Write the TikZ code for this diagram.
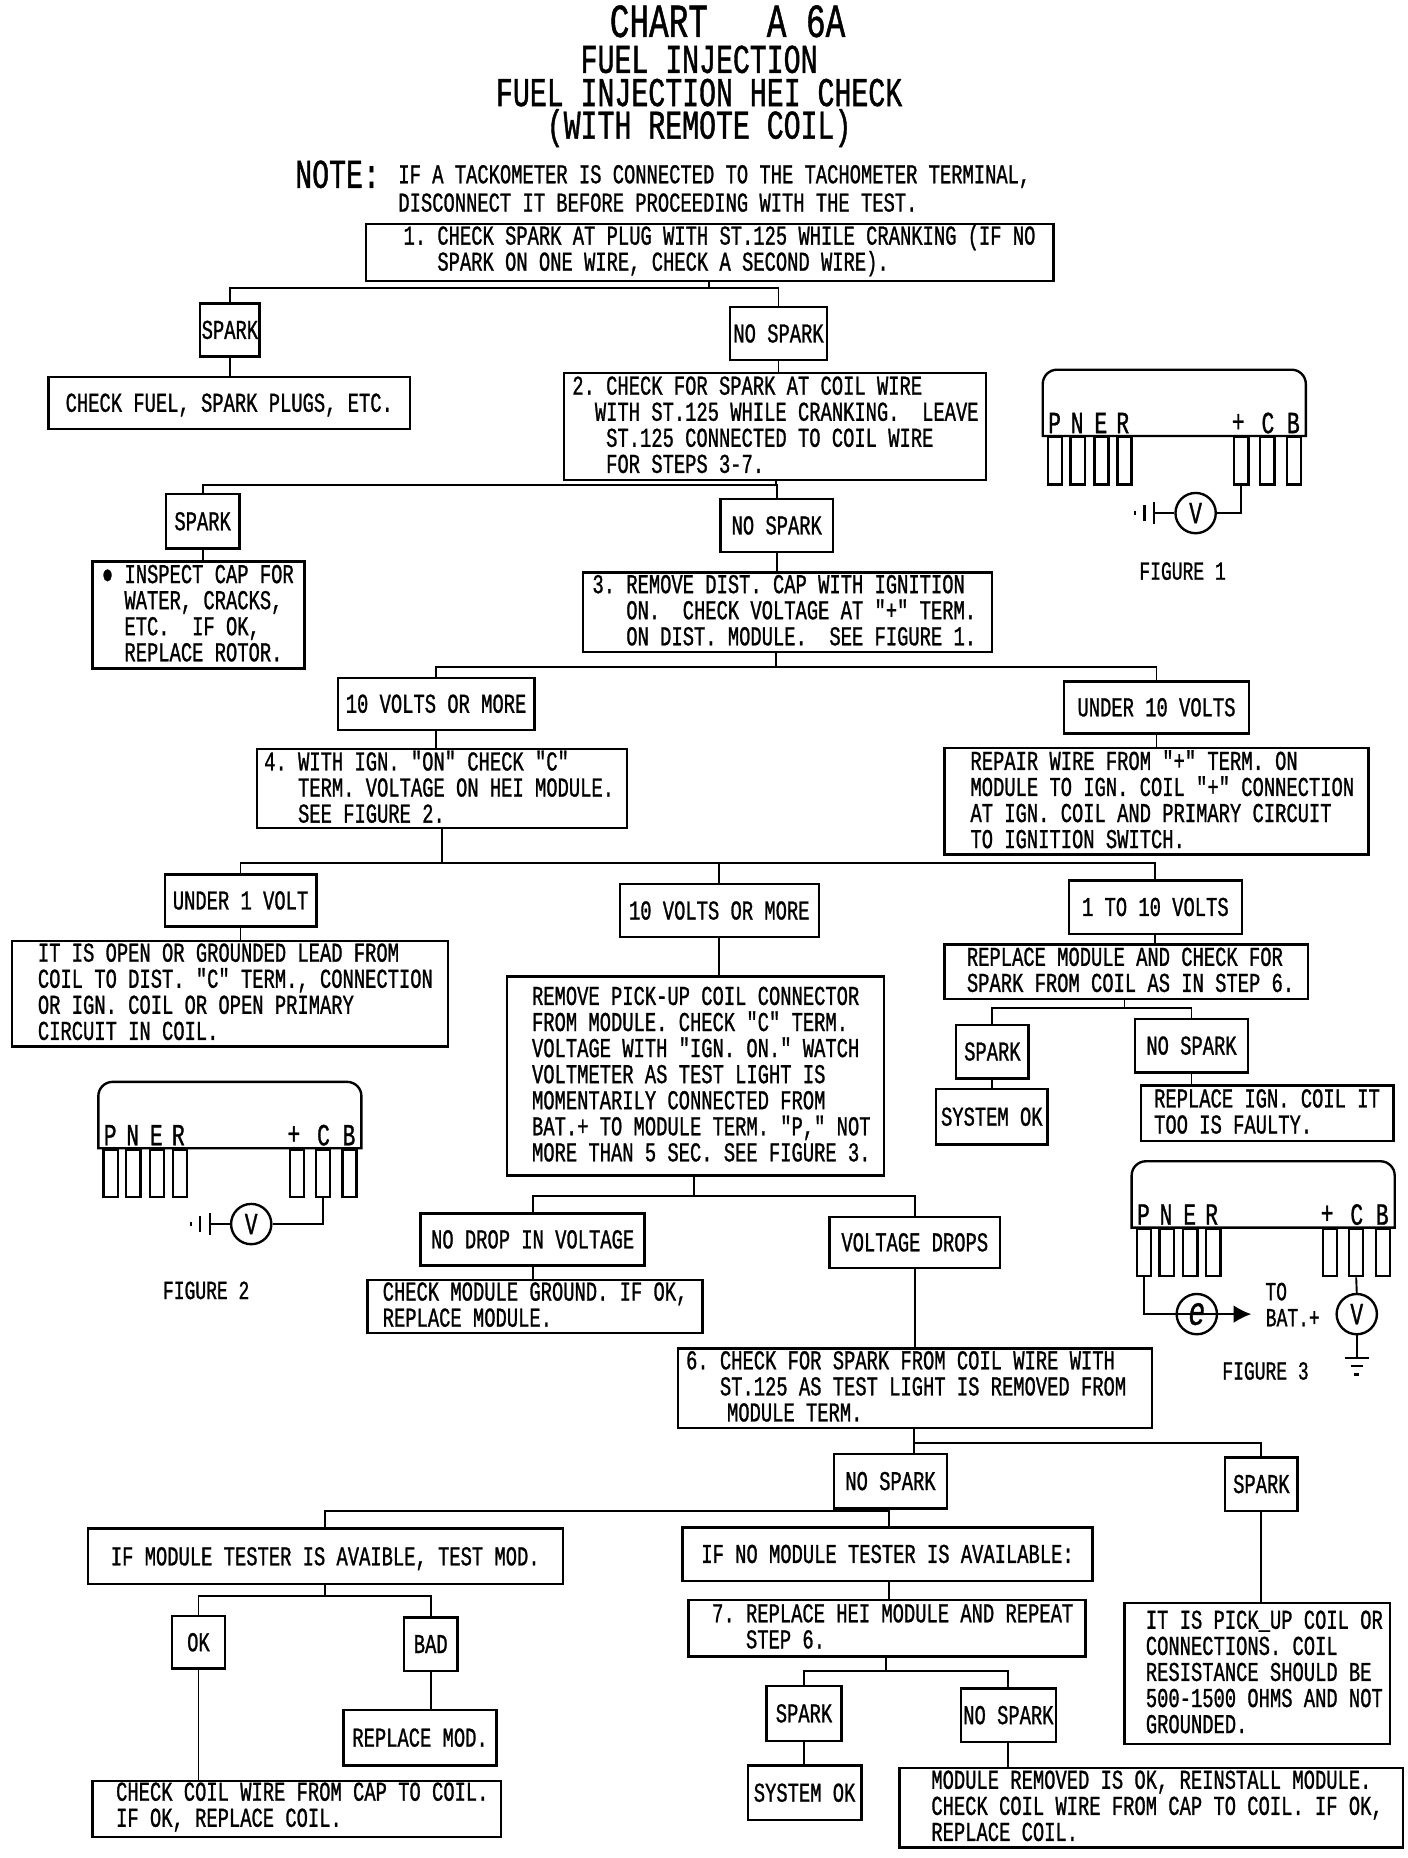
\documentclass[tikz,border=0pt]{standalone}
\usepackage{fontspec}
\setmonofont[FakeStretch=0.69,FakeBold=1]{Liberation Mono}
\renewcommand{\familydefault}{\ttdefault}
\usetikzlibrary{arrows.meta, calc}
% text block of a box: left margin, then the lines
\newcommand{\lns}[2]{\noindent\spaceskip=0pt\xspaceskip=0pt\hspace*{#1pt}\raisebox{1.5pt}[\height][\depth]{\begin{minipage}{1000pt}\baselineskip=22pt\lineskiplimit=-100pt #2\end{minipage}}}
% indent of a line, in characters
\newcommand{\ind}[1]{\hspace*{#1\dimexpr 9.52pt\relax}}
\newcommand{\fsz}[1]{\fontsize{#1}{22}\selectfont}
\newcommand{\heimodule}[3]{%
  \begin{scope}[shift={(#2,#3)}]
    \draw[outl] (0,56) [rounded corners=12pt] -- (0,0) -- (222,0) [sharp corners] -- (222,56) -- cycle;
    \foreach \pn/\px/\lx/\lt in {p/10.4/10/P, n/29.5/29/N, e/49.5/49/E, r/69/67.5/R, a/167.5/165/+, c/189.5/190/C, b/212/211.5/B} {
      \node[pinbox] (#1\pn) at (\px,56) {};
      \node[pinlabel] (#1l\pn) at (\lx,45) {\lt};
    }
  \end{scope}%
}
\begin{document}
\begin{tikzpicture}[
    x=1pt, y=-1pt,
    font=\fsz{23},
    outl/.style={line width=2pt},
    conn/.style={line width=1.6pt},
    bx/.style n args={2}{rectangle, draw, outl, anchor=north west, inner sep=0pt, text width=#1pt, minimum width=#1pt, minimum height=#2pt},
    lb/.style n args={2}{rectangle, draw, outl, anchor=north west, inner sep=0pt, align=center, text height=15pt, text depth=0pt, minimum width=#1pt, minimum height=#2pt},
    pinbox/.style={rectangle, draw, outl, anchor=north, inner sep=0pt, minimum width=12pt, minimum height=40pt},
    pinlabel/.style={inner sep=0pt, font=\fsz{26}},
    meter/.style={circle, draw, outl, inner sep=0pt, minimum size=34pt, font=\fsz{26}},
    capt/.style={inner sep=0pt, font=\fsz{22}},
    titl/.style={inner sep=0pt, font=\fsz{34.5}, text height=23pt, text depth=0pt}
]
    \useasboundingbox (0,0) rectangle (1188,1568);

    % TITLE
    \node[inner sep=0pt, font=\fsz{40}] (chart) at (614,18) {CHART~~~A~6A};
    \node[titl] (tl1) at (590,50) {FUEL INJECTION};
    \node[titl] (tl2) at (590,78) {FUEL INJECTION HEI CHECK};
    \node[titl] (tl3) at (590,105.5) {(WITH REMOTE COIL)};
    \node[titl, anchor=west] (note) at (249,147) {NOTE:};
    \node[inner sep=0pt, anchor=west] (nl1) at (336,149) {IF A TACKOMETER IS CONNECTED TO THE TACHOMETER TERMINAL,};
    \node[inner sep=0pt, anchor=west] (nl2) at (336,171) {DISCONNECT IT BEFORE PROCEEDING WITH THE TEST.};

    % STEP 1
    \node[bx={580}{48}] (q1) at (308,188) {\lns{3}{\ind{3}1. CHECK SPARK AT PLUG WITH ST.125 WHILE CRANKING (IF NO\\\ind{6}SPARK ON ONE WIRE, CHECK A SECOND WIRE).}};
    \node[lb={50}{45}] (sp1) at (168,255) {SPARK};
    \node[lb={82}{45}] (ns1) at (615,258) {NO SPARK};
    \node[lb={305}{44}] (r1) at (40,317) {CHECK FUEL, SPARK PLUGS, ETC.};
    \coordinate (j1) at (598,243);
    \draw[conn] (j1 |- q1.south) -- (j1);
    \draw[conn] (j1) -| (sp1.north);
    \draw[conn] (j1) -| (ns1.north);
    \draw[conn] (sp1.south) -- (sp1.south |- r1.north);

    % STEP 2
    \node[bx={356}{90}] (q2) at (475,314) {\lns{7}{2. CHECK FOR SPARK AT COIL WIRE\\\ind{2}WITH ST.125 WHILE CRANKING.~~LEAVE\\\ind{3}ST.125 CONNECTED TO COIL WIRE\\\ind{3}FOR STEPS 3-7.}};
    \draw[conn] (ns1.south) -- (ns1.south |- q2.north);
    \node[lb={62}{46}] (sp2) at (139,416) {SPARK};
    \node[lb={95}{45}] (ns2) at (607,420) {NO SPARK};
    \node[bx={179}{90}] (r2) at (77,473) {\lns{8}{●~INSPECT CAP FOR\\\ind{2}WATER, CRACKS,\\\ind{2}ETC.~~IF OK,\\\ind{2}REPLACE ROTOR.}};
    \coordinate (j2) at (655,409);
    \draw[conn] (j2 |- q2.south) -- (j2);
    \draw[conn] (j2) -| (sp2.north);
    \draw[conn] (j2) -| (ns2.north);
    \draw[conn] (sp2.south) -- (sp2.south |- r2.north);

    % STEP 3
    \node[bx={345}{67}] (q3) at (491,482) {\lns{8}{3. REMOVE DIST. CAP WITH IGNITION\\\ind{3}ON.~~CHECK VOLTAGE AT "+" TERM.\\\ind{3}ON DIST. MODULE.~~SEE FIGURE 1.}};
    \draw[conn] (ns2.south) -- (ns2.south |- q3.north);
    \node[lb={166}{44}] (ov1) at (284,571) {10 VOLTS OR MORE};
    \node[lb={156}{44}] (un1) at (897,574) {UNDER 10 VOLTS};
    \coordinate (j3) at (655,563);
    \draw[conn] (j3 |- q3.south) -- (j3);
    \draw[conn] (j3) -| (ov1.north);
    \draw[conn] (j3) -| (un1.north);

    % STEP 4
    \node[bx={312}{67}] (q4) at (216,631) {\lns{6}{4. WITH IGN. "ON" CHECK "C"\\\ind{3}TERM. VOLTAGE ON HEI MODULE.\\\ind{3}SEE FIGURE 2.}};
    \node[bx={358}{90}] (r4) at (796,630) {\lns{22}{REPAIR WIRE FROM "+" TERM. ON\\MODULE TO IGN. COIL "+" CONNECTION\\AT IGN. COIL AND PRIMARY CIRCUIT\\TO IGNITION SWITCH.}};
    \draw[conn] (ov1.south) -- (ov1.south |- q4.north);
    \draw[conn] (un1.south) -- (un1.south |- r4.north);
    \node[lb={128}{44}] (un2) at (138,737) {UNDER 1 VOLT};
    \node[lb={168}{45}] (ov2) at (522,745) {10 VOLTS OR MORE};
    \node[lb={146}{45}] (mid) at (901,742) {1 TO 10 VOLTS};
    \coordinate (j4) at (373,728);
    \draw[conn] (j4 |- q4.south) -- (j4);
    \draw[conn] (j4) -| (un2.north);
    \draw[conn] (j4) -| (ov2.north);
    \draw[conn] (j4) -| (mid.north);

    % UNDER 1 VOLT
    \node[bx={368}{89}] (r5) at (9,793) {\lns{22}{IT IS OPEN OR GROUNDED LEAD FROM\\COIL TO DIST. "C" TERM., CONNECTION\\OR IGN. COIL OR OPEN PRIMARY\\CIRCUIT IN COIL.}};
    \draw[conn] (un2.south) -- (un2.south |- r5.north);

    % 10 VOLTS OR MORE
    \node[bx={318}{168}] (q5) at (427,823) {\lns{21}{REMOVE PICK-UP COIL CONNECTOR\\FROM MODULE. CHECK "C" TERM.\\VOLTAGE WITH "IGN. ON." WATCH\\VOLTMETER AS TEST LIGHT IS\\MOMENTARILY CONNECTED FROM\\BAT.+ TO MODULE TERM. "P," NOT\\MORE THAN 5 SEC. SEE FIGURE 3.}};
    \draw[conn] (ov2.south) -- (ov2.south |- q5.north);

    % 1 TO 10 VOLTS
    \node[bx={307}{46}] (r6) at (796,796) {\lns{19}{REPLACE MODULE AND CHECK FOR\\SPARK FROM COIL AS IN STEP 6.}};
    \draw[conn] (mid.south) -- (mid.south |- r6.north);
    \node[lb={61}{45}] (sp3) at (806,864) {SPARK};
    \node[lb={95}{45}] (ns3) at (957,859) {NO SPARK};
    \node[lb={94}{47}] (ok1) at (789,918) {SYSTEM OK};
    \node[bx={213}{47}] (r8) at (962,915) {\lns{11}{REPLACE IGN. COIL IT\\TOO IS FAULTY.}};
    \coordinate (j5) at (949,851);
    \draw[conn] (j5 |- r6.south) -- (j5);
    \draw[conn] (j5) -| (sp3.north);
    \draw[conn] (j5) -| (ns3.north);
    \draw[conn] (sp3.south) -- (sp3.south |- ok1.north);
    \draw[conn] (ns3.south) -- (ns3.south |- r8.north);

    % VOLTAGE DROP
    \node[lb={189}{44}] (nd) at (354,1023) {NO DROP IN VOLTAGE};
    \node[lb={144}{43}] (vd) at (699,1026) {VOLTAGE DROPS};
    \node[bx={283}{45}] (r9) at (309,1079) {\lns{13}{CHECK MODULE GROUND. IF OK,\\REPLACE MODULE.}};
    \coordinate (j6) at (586,1009);
    \draw[conn] (j6 |- q5.south) -- (j6);
    \draw[conn] (j6) -| (nd.north);
    \draw[conn] (j6) -| (vd.north);
    \draw[conn] (nd.south) -- (nd.south |- r9.north);

    % STEP 6
    \node[bx={400}{67}] (q6) at (571,1137) {\lns{7}{6. CHECK FOR SPARK FROM COIL WIRE WITH\\\ind{3}ST.125 AS TEST LIGHT IS REMOVED FROM\\\ind{3}\hspace*{6pt}MODULE TERM.}};
    \draw[conn] (vd.south) -- (vd.south |- q6.north);
    \node[lb={95}{46}] (ns4) at (703,1226) {NO SPARK};
    \node[lb={61}{45}] (sp4) at (1033,1229) {SPARK};
    \node[bx={224}{119}] (r12) at (948,1352) {\lns{18}{IT IS PICK\_UP COIL OR\\CONNECTIONS. COIL\\RESISTANCE SHOULD BE\\500-1500 OHMS AND NOT\\GROUNDED.}};
    \coordinate (j7) at (771,1218);
    \draw[conn] (j7 |- q6.south) -- (j7 |- ns4.north);
    \draw[conn] (j7) -| (sp4.north);
    \draw[conn] (sp4.south) -- (sp4.south |- r12.north);

    % MODULE TESTER
    \node[lb={401}{47}] (t1) at (73,1289) {IF MODULE TESTER IS AVAIBLE, TEST MOD.};
    \node[lb={346}{45}] (t2) at (575,1288) {IF NO MODULE TESTER IS AVAILABLE:};
    \coordinate (j8) at (750,1275);
    \draw[conn] (j8 |- ns4.south) -- (j8 |- t2.north);
    \draw[conn] (j8) -| (t1.north);
    \node[lb={45}{44}] (ok2) at (144,1363) {OK};
    \node[lb={45}{45}] (bad) at (340,1364) {BAD};
    \node[lb={129}{47}] (rm) at (289,1442) {REPLACE MOD.};
    \node[bx={345}{47}] (r10) at (77,1502) {\lns{20}{CHECK COIL WIRE FROM CAP TO COIL.\\IF OK, REPLACE COIL.}};
    \coordinate (j9) at (274,1347);
    \draw[conn] (j9 |- t1.south) -- (j9);
    \draw[conn] (j9) -| (ok2.north);
    \draw[conn] (j9) -| (bad.north);
    \draw[conn] (bad.south) -- (bad.south |- rm.north);
    \draw[conn] (ok2.south) -- (ok2.south |- r10.north);

    % STEP 7
    \node[bx={335}{48}] (q7) at (580,1349) {\lns{20}{7. REPLACE HEI MODULE AND REPEAT\\\ind{3}STEP 6.}};
    \draw[conn] (j8 |- t2.south) -- (j8 |- q7.north);
    \node[lb={63}{46}] (sp5) at (646,1422) {SPARK};
    \node[lb={80}{45}] (ns5) at (810,1424) {NO SPARK};
    \node[lb={96}{46}] (ok3) at (630,1489) {SYSTEM OK};
    \node[bx={425}{67}] (r11) at (758,1491) {\lns{27}{MODULE REMOVED IS OK, REINSTALL MODULE.\\CHECK COIL WIRE FROM CAP TO COIL. IF OK,\\REPLACE COIL.}};
    \coordinate (j10) at (748,1410);
    \draw[conn] (j10 |- q7.south) -- (j10);
    \draw[conn] (j10) -| (sp5.north);
    \draw[conn] (j10) -| (ns5.north);
    \draw[conn] (sp5.south) -- (sp5.south |- ok3.north);
    \draw[conn] (ns5.south) -- (ns5.south |- r11.north);

    % FIGURE 1
    \heimodule{fa}{880}{312}
    \node[meter] (fav) at (1009,433) {V};
    \coordinate (fab) at (974,433);
    \draw[conn] (faa.south) |- (fav.east);
    \draw[conn] (fav.west) -- (fab);
    \draw[outl] ($(fab)+(0,-9)$) -- ($(fab)+(0,9)$);
    \draw[outl] ($(fab)+(-8,-7)$) -- ($(fab)+(-8,7)$);
    \draw[outl] ($(fab)+(-16,-2)$) -- ($(fab)+(-16,2)$);
    \node[capt] (fc1) at (998,482) {FIGURE 1};

    % FIGURE 2
    \heimodule{fb}{83}{913}
    \node[meter] (fbv) at (212,1033) {V};
    \coordinate (fbb) at (177,1033);
    \draw[conn] (fbc.south) |- (fbv.east);
    \draw[conn] (fbv.west) -- (fbb);
    \draw[outl] ($(fbb)+(0,-9)$) -- ($(fbb)+(0,9)$);
    \draw[outl] ($(fbb)+(-8,-7)$) -- ($(fbb)+(-8,7)$);
    \draw[outl] ($(fbb)+(-16,-2)$) -- ($(fbb)+(-16,2)$);
    \node[capt] (fc2) at (174,1089) {FIGURE 2};

    % FIGURE 3
    \heimodule{fd}{955}{980}
    \node[meter] (fdv) at (1145,1109) {V};
    \node[meter, font=\fsz{34}\itshape] (fde) at (1010,1109) {e};
    \coordinate (fdt) at (1056,1109);
    \coordinate (fdg) at (1145,1146);
    \draw[conn, -{Latex[length=15pt,width=15pt]}] (fdp.south) |- (fdt);
    \draw[conn] (fdc.south) -- (fdv.north);
    \draw[conn] (fdv.south) -- (fdg);
    \draw[outl] ($(fdg)+(-10,0)$) -- ($(fdg)+(10,0)$);
    \draw[outl] ($(fdg)+(-5,7)$) -- ($(fdg)+(5,7)$);
    \draw[outl] ($(fdg)+(-2,14)$) -- ($(fdg)+(2,14)$);
    \node[capt] (fdto) at (1077,1090) {TO};
    \node[capt] (fdbat) at (1091,1112) {BAT.+};
    \node[capt] (fc3) at (1068,1157) {FIGURE 3};
\end{tikzpicture}
\end{document}
